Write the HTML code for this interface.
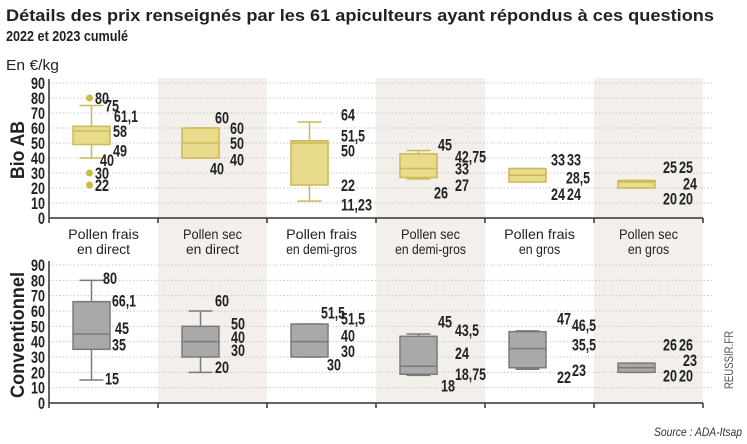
<!DOCTYPE html>
<html><head><meta charset="utf-8"><style>
body{margin:0;background:#fff;width:747px;height:444px;overflow:hidden}
svg{display:block;font-family:"Liberation Sans",sans-serif}
</style></head><body>
<svg id="c" width="747" height="444">
<text x="6" y="21" font-size="17" font-weight="bold" fill="#222" textLength="708" lengthAdjust="spacingAndGlyphs">Détails des prix renseignés par les 61 apiculteurs ayant répondus à ces questions</text>
<text x="6" y="41" font-size="15" font-weight="bold" fill="#222" textLength="122" lengthAdjust="spacingAndGlyphs">2022 et 2023 cumulé</text>
<text x="6" y="70" font-size="15" fill="#222" textLength="53" lengthAdjust="spacingAndGlyphs">En €/kg</text>
<text transform="translate(24,150) rotate(-90)" text-anchor="middle" font-size="19" font-weight="bold" fill="#222" textLength="58" lengthAdjust="spacingAndGlyphs">Bio AB</text>
<text transform="translate(24,335) rotate(-90)" text-anchor="middle" font-size="19" font-weight="bold" fill="#222" textLength="126" lengthAdjust="spacingAndGlyphs">Conventionnel</text>
<text transform="translate(733,360) rotate(-90)" text-anchor="middle" font-size="12" fill="#555" textLength="58" lengthAdjust="spacingAndGlyphs">REUSSIR.FR</text>
<text x="742" y="436" text-anchor="end" font-size="12" font-style="italic" fill="#333" textLength="88" lengthAdjust="spacingAndGlyphs">Source : ADA-Itsap</text>
</svg>
<script>
const categories=[["Pollen frais","en direct"],["Pollen sec","en direct"],["Pollen frais","en demi-gros"],["Pollen sec","en demi-gros"],["Pollen frais","en gros"],["Pollen sec","en gros"]];
const yTicks=[0,10,20,30,40,50,60,70,80,90];
// [whiskerLow, q1, median, q3, whiskerHigh]
const bioBoxes=[[40,49,58,61.1,75],[40,40,50,60,60],[11.23,22,50,51.5,64],[26,27,33,42.75,45],[24,24,28.5,33,33],[20,20,24,25,25]];
const bioOutliers=[[80,30,22],[],[],[],[],[]];
const convBoxes=[[15,35,45,66.1,80],[20,30,40,50,60],[30,30,40,51.5,51.5],[18,18.75,24,43.5,45],[22,23,35.5,46.5,47],[20,20,23,26,26]];
const convOutliers=[[],[],[],[],[],[]];
// printed labels: [text, displayed value, x offset within column]
const bioLabels=[[["80",80,46],["75",75,56],["61,1",68,65],["58",58,64],["49",45,64],["40",38.7,51],["30",30,46],["22",22,46]],
[["60",67,57],["60",60,72],["50",50,72],["40",39,72],["40",33,52]],
[["64",69,74],["51,5",55,74],["50",45,74],["22",22,74],["11,23",9,74]],
[["45",49,62],["42,75",41,79],["33",33,79],["27",22,79],["26",17,58]],
[["33",39,66],["33",39,82],["28,5",27,81],["24",16,66],["24",16,82]],
[["25",34,69],["25",34,85],["24",23,89],["20",13,69],["20",13,85]]];
const convLabels=[[["80",81.5,54],["66,1",67,63],["45",49,66],["35",38,63],["15",16,56]],
[["60",67,57],["50",52,73],["40",43,73],["30",34.5,73],["20",23.5,57]],
[["51,5",59,54],["51,5",55,74],["40",44,74],["30",34,74],["30",25,60]],
[["45",53,62],["43,5",47.5,79],["24",32.5,79],["18,75",19,79],["18",11.5,65]],
[["47",55,72],["46,5",51,87],["35,5",38,87],["22",17,72],["23",21.5,87]],
[["26",38,69],["26",38,85],["23",28,89],["20",18,69],["20",18,85]]];
</script>
<script>
const svg=document.getElementById('c');const NS='http://www.w3.org/2000/svg';
function mk(t,a,p){const e=document.createElementNS(NS,t);for(const k in a)e.setAttribute(k,a[k]);(p||svg).appendChild(e);return e;}
function numW(s){let w=0;for(const ch of s)w+=(ch===','?3:7);return w;}
const X0=49,CW=109;
function colX(i){return X0+i*CW;}
for(let i=1;i<6;i+=2){const r=mk('rect',{x:colX(i),y:78,width:CW,height:325,fill:'#f3f0eb'});

}
categories.forEach((c,i)=>{c.forEach((l,j)=>{const t=mk('text',{x:colX(i)+CW/2,y:239+j*15,'text-anchor':'middle','font-size':14,fill:'#222',textLength:l.length*5.9,lengthAdjust:'spacingAndGlyphs'});t.textContent=l;

});});
function panel(y0,y90,boxes,outl,labels,fill,stroke,dot,name){
const sy=v=>y0-(y0-y90)*v/90;
const g=mk('g',{});


yTicks.forEach(v=>{if(v>0){const l=mk('line',{x1:X0,x2:712,y1:sy(v),y2:sy(v),stroke:'#c8c8c8','stroke-dasharray':'1.5,2'},g);

}
const s=String(v);
const t=mk('text',{x:45,y:sy(v)+6,'text-anchor':'end','font-size':17,'font-weight':'bold',fill:'#222',textLength:numW(s),lengthAdjust:'spacingAndGlyphs'},g);t.textContent=s;

});
mk('line',{x1:X0,x2:X0,y1:y90-4,y2:y0,stroke:'#333','stroke-width':1.5},g);
mk('line',{x1:X0,x2:colX(6),y1:y0,y2:y0,stroke:'#333','stroke-width':1.5},g);
for(let i=0;i<=6;i++)mk('line',{x1:colX(i),x2:colX(i),y1:y0,y2:y0+5,stroke:'#333','stroke-width':1.5},g);
boxes.forEach((b,i)=>{const bx=colX(i)+24,bw=37,cx=bx+bw/2;
const bg=mk('g',{},g);


mk('line',{x1:cx,x2:cx,y1:sy(b[0]),y2:sy(b[4]),stroke:stroke,'stroke-width':1.5},bg);
mk('line',{x1:cx-12,x2:cx+12,y1:sy(b[0]),y2:sy(b[0]),stroke:stroke,'stroke-width':1.5},bg);
mk('line',{x1:cx-12,x2:cx+12,y1:sy(b[4]),y2:sy(b[4]),stroke:stroke,'stroke-width':1.5},bg);
mk('rect',{x:bx,y:sy(b[3]),width:bw,height:Math.max(1,sy(b[1])-sy(b[3])),fill:fill,stroke:stroke,'stroke-width':1.5},bg);
mk('line',{x1:bx,x2:bx+bw,y1:sy(b[2]),y2:sy(b[2]),stroke:stroke,'stroke-width':1.5},bg);
outl[i].forEach(v=>{const c=mk('circle',{cx:cx-2,cy:sy(v),r:3.5,fill:dot},bg);

});
labels[i].forEach(L=>{const t=mk('text',{x:colX(i)+L[2],y:sy(L[1])+6,'font-size':17,'font-weight':'bold',fill:'#222',textLength:numW(L[0]),lengthAdjust:'spacingAndGlyphs'},bg);t.textContent=L[0];

});});}
panel(218,83,bioBoxes,bioOutliers,bioLabels,'#e9db8c','#c9b957','#c9bb45','bio-panel');
panel(403,265,convBoxes,convOutliers,convLabels,'#a9a9a9','#7a7a7a','#777','conv-panel');
</script>
</body></html>
